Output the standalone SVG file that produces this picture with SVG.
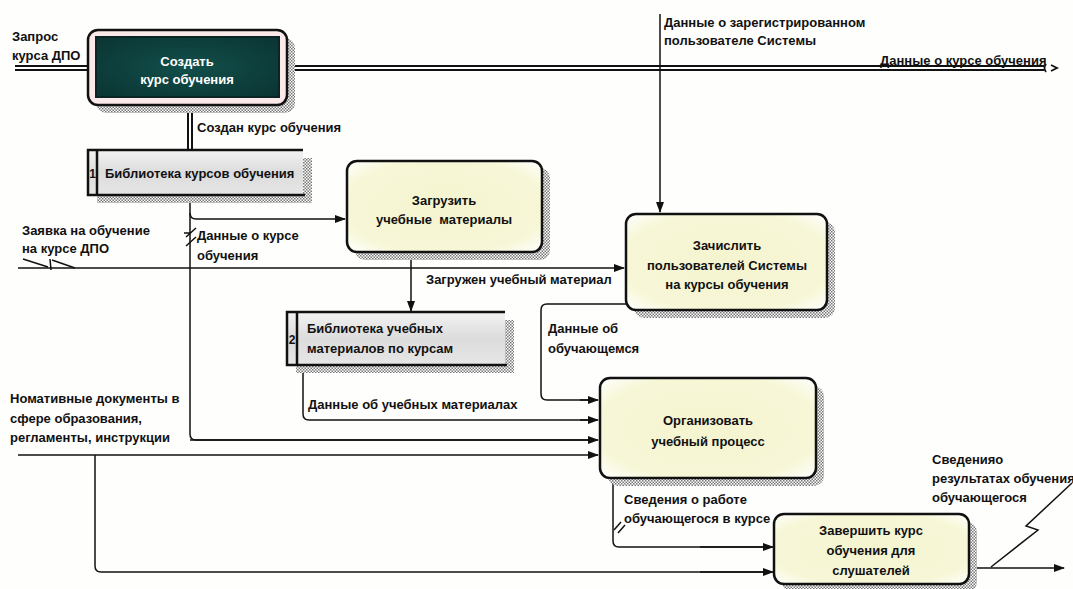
<svg xmlns="http://www.w3.org/2000/svg" width="1073" height="589" viewBox="0 0 1073 589">
  <style>
    .t { font-family: "Liberation Sans", Arial, sans-serif; font-size: 13px; font-weight: bold; fill: #111; }
    .tc { text-anchor: middle; }
    .tw { fill: #ffffff; }
    .num { font-size: 12px; text-anchor: middle; }
    .ln { fill: none; stroke: #111; stroke-width: 1.5; }
    .arr { marker-end: url(#ah); }
    .dbl { fill: none; stroke: #111; stroke-width: 6; }
    .dbi { fill: none; stroke: #ffffff; stroke-width: 2; }
    .box { fill: url(#yel); stroke: #111; stroke-width: 2.5; }
    .shd { fill: url(#hatch); }
    .store { fill: url(#gray); stroke: none; }
    .edge { stroke: #111; stroke-width: 2.5; fill: none; }
  </style>
  <defs>
    <pattern id="hatch" width="3" height="3" patternUnits="userSpaceOnUse">
      <rect width="3" height="3" fill="#ffffff"/>
      <rect width="1.5" height="1.5" fill="#777"/>
      <rect x="1.5" y="1.5" width="1.5" height="1.5" fill="#777"/>
    </pattern>
    <radialGradient id="yel" cx="0.5" cy="0.5" r="0.7">
      <stop offset="0" stop-color="#f4f4cf"/>
      <stop offset="0.75" stop-color="#f7f7d8"/>
      <stop offset="1" stop-color="#ffffff"/>
    </radialGradient>
    <radialGradient id="teal" cx="0.5" cy="0.5" r="0.7">
      <stop offset="0" stop-color="#124f4b"/>
      <stop offset="1" stop-color="#0a3432"/>
    </radialGradient>
    <linearGradient id="gray" x1="0" y1="0" x2="0" y2="1">
      <stop offset="0" stop-color="#f2f2f2"/>
      <stop offset="0.5" stop-color="#dcdcdc"/>
      <stop offset="1" stop-color="#e6e6e6"/>
    </linearGradient>
    <marker id="ah" markerWidth="11" markerHeight="9" refX="10" refY="4.5" orient="auto" markerUnits="userSpaceOnUse">
      <path d="M0,0.5 L11,4.5 L0,8.5 z" fill="#111"/>
    </marker>
  </defs>

  <rect width="1073" height="589" fill="#fefefc"/>

  <!-- connectors -->
  <g id="connectors">
    <!-- Запрос курса ДПО (double) -->
    <path class="dbl" d="M15,68 H88"/>
    <path class="dbi" d="M15,68 H88"/>
    <!-- Данные о курсе обучения (double) -->
    <path class="dbl" d="M287,68 H1044"/>
    <path class="dbi" d="M287,68 H1044"/>
    <path d="M1046,64 q-3,4 0,8 M1051,65 l6,3 l-6,3" fill="none" stroke="#111" stroke-width="1.8"/>
    <!-- Создан курс обучения (double, vertical) -->
    <path class="dbl" d="M190,105 V150"/>
    <path class="dbi" d="M190,105 V150"/>

    <!-- Данные о зарегистрированном пользователе -->
    <path class="ln arr" d="M660,14 V212"/>

    <!-- Данные о курсе обучения: library -> Загрузить / Организовать -->
    <path class="ln" d="M190,195 V434 q0,6 6,6 H590"/>
    <path class="ln arr" d="M190,440 H598"/>
    <path class="ln arr" d="M190,213 q0,6 6,6 H345"/>
    <path class="ln" d="M186,237 l10,-9 M186,246 l10,-9 M184,233 h6" stroke-width="1"/>

    <!-- Заявка на обучение на курсе ДПО -->
    <path class="ln arr" d="M18,268 H624"/>
    <path class="ln" d="M23,259 L48,267 M50,259 L51,270 M52,260 L75,268" stroke-width="1"/>

    <!-- Загружен учебный материал -->
    <path class="ln arr" d="M411,252 V311"/>

    <!-- Данные об обучающемся -->
    <path class="ln" d="M626,304 H547 q-6,0 -6,6 V394 q0,6 6,6 H590"/>
    <path class="ln arr" d="M580,400 H598"/>

    <!-- Данные об учебных материалах -->
    <path class="ln" d="M303,365 V414 q0,6 6,6 H590"/>
    <path class="ln arr" d="M580,420 H598"/>

    <!-- Нормативные документы -->
    <path class="ln arr" d="M18,455 H598"/>
    <path class="ln" d="M95,455 V566 q0,6 6,6 H765"/>
    <path class="ln arr" d="M700,572 H773"/>

    <!-- Сведения о работе обучающегося -->
    <path class="ln" d="M613,478 V541 q0,6 6,6 H765"/>
    <path class="ln arr" d="M700,547 H773"/>
    <path class="ln" d="M614,530 l7,-8 M618,533 l7,-8" stroke-width="1"/>

    <!-- Сведения о результатах обучения -->
    <path class="ln arr" d="M970,568 H1064"/>
    <path class="ln" d="M991,567 L1038,530 L1026,526 L1072,483" stroke-width="1"/>
  </g>

  <!-- Создать курс обучения -->
  <g id="n-create">
    <rect class="shd" x="96" y="38" width="199" height="75" rx="10"/>
    <rect x="88" y="30" width="199" height="75" rx="10" fill="#fbe9e9" stroke="#111" stroke-width="2.5"/>
    <rect x="96" y="37" width="183" height="60" fill="url(#teal)" stroke="#0a2524" stroke-width="2"/>
    <text class="t tc tw" x="187" y="66">Создать</text>
    <text class="t tc tw" x="187" y="84">курс обучения</text>
  </g>

  <!-- Библиотека курсов обучения -->
  <g id="n-store1">
    <rect class="shd" x="97" y="158" width="215" height="45"/>
    <rect class="store" x="88" y="150" width="215" height="45"/>
    <path class="edge" d="M303,150 H88 V195 H305"/>
    <path class="edge" d="M97,150 V195" stroke-width="1.5"/>
    <text class="t num" x="92.5" y="178">1</text>
    <text class="t" x="105" y="178">Библиотека курсов обучения</text>
  </g>

  <!-- Загрузить учебные материалы -->
  <g id="n-load">
    <rect class="shd" x="355" y="168" width="195" height="92" rx="10"/>
    <rect class="box" x="347" y="161" width="195" height="91" rx="10"/>
    <text class="t tc" x="444" y="205">Загрузить</text>
    <text class="t tc" x="444" y="224" xml:space="preserve">учебные  материалы</text>
  </g>

  <!-- Библиотека учебных материалов по курсам -->
  <g id="n-store2">
    <rect class="shd" x="296" y="320" width="218" height="53"/>
    <rect class="store" x="287" y="312" width="218" height="53"/>
    <path class="edge" d="M505,312 H287 V365 H507"/>
    <path class="edge" d="M297,312 V365" stroke-width="1.5"/>
    <text class="t num" x="292" y="344">2</text>
    <text class="t" x="307" y="333">Библиотека учебных</text>
    <text class="t" x="307" y="353">материалов по курсам</text>
  </g>

  <!-- Зачислить пользователей Системы на курсы обучения -->
  <g id="n-enroll">
    <rect class="shd" x="634" y="222" width="201" height="96" rx="10"/>
    <rect class="box" x="626" y="214" width="201" height="96" rx="10"/>
    <text class="t tc" x="727" y="250">Зачислить</text>
    <text class="t tc" x="727" y="270">пользователей Системы</text>
    <text class="t tc" x="727" y="289">на курсы обучения</text>
  </g>

  <!-- Организовать учебный процесс -->
  <g id="n-organize">
    <rect class="shd" x="608" y="386" width="216" height="100" rx="10"/>
    <rect class="box" x="600" y="378" width="216" height="100" rx="10"/>
    <text class="t tc" x="708" y="425">Организовать</text>
    <text class="t tc" x="708" y="446">учебный процесс</text>
  </g>

  <!-- Завершить курс обучения для слушателей -->
  <g id="n-finish">
    <rect class="shd" x="782" y="522" width="195" height="70" rx="10"/>
    <rect class="box" x="774" y="514" width="195" height="70" rx="10"/>
    <text class="t tc" x="871" y="535">Завершить курс</text>
    <text class="t tc" x="871" y="555">обучения для</text>
    <text class="t tc" x="871" y="575">слушателей</text>
  </g>

  <!-- arrow labels -->
  <g id="labels">
    <text class="t" x="12" y="41">Запрос</text>
    <text class="t" x="12" y="60">курса ДПО</text>
    <text class="t" x="197" y="132">Создан курс обучения</text>
    <text class="t" x="664" y="27">Данные о зарегистрированном</text>
    <text class="t" x="664" y="45">пользователе Системы</text>
    <text class="t" x="880" y="65">Данные о курсе обучения</text>
    <text class="t" x="22" y="235">Заявка на обучение</text>
    <text class="t" x="22" y="253">на курсе ДПО</text>
    <text class="t" x="197" y="240">Данные о курсе</text>
    <text class="t" x="197" y="260">обучения</text>
    <text class="t" x="426" y="284">Загружен учебный материал</text>
    <text class="t" x="548" y="333">Данные об</text>
    <text class="t" x="548" y="353">обучающемся</text>
    <text class="t" x="308" y="409">Данные об учебных материалах</text>
    <text class="t" x="10" y="403">Номативные документы в</text>
    <text class="t" x="10" y="423">сфере образования,</text>
    <text class="t" x="10" y="442">регламенты, инструкции</text>
    <text class="t" x="624" y="504">Сведения о работе</text>
    <text class="t" x="624" y="523">обучающегося в курсе</text>
    <text class="t" x="932" y="464">Сведенияо</text>
    <text class="t" x="932" y="483">результатах обучения</text>
    <text class="t" x="932" y="502">обучающегося</text>
  </g>
</svg>
